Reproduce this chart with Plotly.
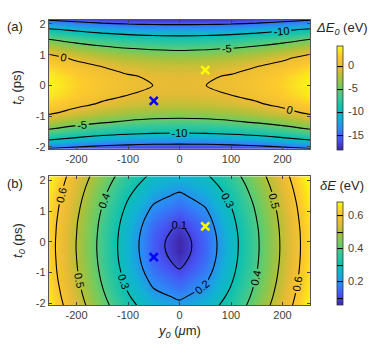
import plotly.graph_objects as go

# grid (y0 in um, t0 in ps)
y0_um = [-254, -200, -150, -100, -50, 0, 50, 100, 150, 200, 254]
t0_ps = [-2.1, -1.8, -1.5, -1.2, -0.9, -0.6, -0.3, 0, 0.3, 0.6, 0.9, 1.2, 1.5, 1.8, 2.15]

# (a) Delta E0 (eV), one row per t0 value
dE0_rows = [
    [-15.9, -16.7, -17.3, -17.7, -17.9, -18.0, -17.9, -17.7, -17.3, -16.7, -15.9],
    [-10.4, -11.5, -12.4, -12.9, -13.2, -13.3, -13.2, -12.9, -12.4, -11.5, -10.4],
    [-5.9, -7.2, -8.2, -8.8, -9.2, -9.4, -9.2, -8.8, -8.2, -7.2, -5.9],
    [-2.3, -3.8, -4.8, -5.5, -6.0, -6.1, -6.0, -5.5, -4.8, -3.8, -2.3],
    [0.4, -1.1, -2.2, -3.0, -3.4, -3.6, -3.4, -3.0, -2.2, -1.1, 0.4],
    [2.4, 0.8, -0.3, -1.1, -1.6, -1.8, -1.6, -1.1, -0.3, 0.8, 2.4],
    [3.5, 2.0, 0.8, 0.04, -0.5, -0.6, -0.5, 0.04, 0.8, 2.0, 3.5],
    [4.0, 2.4, 1.3, 0.48, -0.02, -0.2, -0.02, 0.48, 1.3, 2.4, 4.0],
    [3.7, 2.1, 1.0, 0.2, -0.3, -0.5, -0.3, 0.2, 1.0, 2.1, 3.7],
    [2.7, 1.1, 0.03, -0.8, -1.3, -1.4, -1.3, -0.8, 0.03, 1.1, 2.7],
    [1.0, -0.6, -1.7, -2.5, -2.9, -3.1, -2.9, -2.5, -1.7, -0.6, 1.0],
    [-1.6, -3.1, -4.1, -4.9, -5.3, -5.5, -5.3, -4.9, -4.1, -3.1, -1.6],
    [-4.95, -6.3, -7.3, -8.0, -8.4, -8.6, -8.4, -8.0, -7.3, -6.3, -4.95],
    [-9.2, -10.4, -11.3, -11.9, -12.2, -12.3, -12.2, -11.9, -11.3, -10.4, -9.2],
    [-15.5, -16.3, -17.0, -17.4, -17.6, -17.6, -17.6, -17.4, -17.0, -16.3, -15.5],
]

# (b) delta E (eV), one row per t0 value
dE_rows = [
    [0.668, 0.542, 0.430, 0.329, 0.251, 0.221, 0.258, 0.340, 0.443, 0.556, 0.682],
    [0.658, 0.530, 0.415, 0.309, 0.224, 0.190, 0.232, 0.321, 0.428, 0.544, 0.672],
    [0.650, 0.520, 0.402, 0.291, 0.198, 0.159, 0.207, 0.304, 0.416, 0.534, 0.664],
    [0.643, 0.511, 0.391, 0.276, 0.175, 0.129, 0.186, 0.289, 0.405, 0.526, 0.658],
    [0.638, 0.505, 0.383, 0.264, 0.155, 0.101, 0.167, 0.278, 0.397, 0.520, 0.653],
    [0.635, 0.501, 0.377, 0.255, 0.141, 0.077, 0.154, 0.270, 0.392, 0.515, 0.650],
    [0.633, 0.498, 0.374, 0.251, 0.133, 0.061, 0.146, 0.266, 0.389, 0.513, 0.648],
    [0.633, 0.498, 0.374, 0.251, 0.132, 0.060, 0.146, 0.265, 0.389, 0.513, 0.648],
    [0.635, 0.501, 0.377, 0.255, 0.140, 0.076, 0.153, 0.269, 0.391, 0.515, 0.649],
    [0.638, 0.504, 0.382, 0.263, 0.154, 0.098, 0.166, 0.277, 0.397, 0.519, 0.653],
    [0.643, 0.511, 0.390, 0.275, 0.174, 0.128, 0.184, 0.288, 0.405, 0.525, 0.658],
    [0.649, 0.519, 0.401, 0.290, 0.197, 0.157, 0.206, 0.302, 0.415, 0.533, 0.664],
    [0.657, 0.529, 0.414, 0.308, 0.222, 0.188, 0.230, 0.320, 0.428, 0.543, 0.672],
    [0.667, 0.541, 0.429, 0.328, 0.249, 0.219, 0.256, 0.339, 0.442, 0.555, 0.681],
    [0.680, 0.557, 0.449, 0.354, 0.282, 0.256, 0.289, 0.364, 0.462, 0.570, 0.694],
]

# the two marked points
cross_y0 = [-50, 50]
cross_t0 = [-0.5, 0.5]
cross_colors = ['#0000ff', '#ffff00']

x_ticks = [-200, -100, 0, 100, 200]
x_ticktext = ['-200', '-100', '0', '100', '200']
t_ticks = [-2, -1, 0, 1, 2]
t_ticktext = ['-2', '-1', '0', '1', '2']

parula = [
    [0.0, 'rgb(62,38,168)'],
    [0.1, 'rgb(72,82,244)'],
    [0.2, 'rgb(46,135,247)'],
    [0.3, 'rgb(18,177,214)'],
    [0.4, 'rgb(12,193,178)'],
    [0.5, 'rgb(55,200,151)'],
    [0.6, 'rgb(113,203,96)'],
    [0.7, 'rgb(175,193,57)'],
    [0.8, 'rgb(232,187,53)'],
    [0.9, 'rgb(253,201,46)'],
    [1.0, 'rgb(249,251,21)'],
]

FONT = 'Liberation Sans'
GREY = '#404040'


def colorbar(y, length, vals, text):
    return dict(thickness=5.5, thicknessmode='pixels', len=length, lenmode='fraction',
                x=0.902, xanchor='left', y=y, yanchor='middle', xpad=0, ypad=0,
                outlinewidth=0.8, outlinecolor='#333',
                tickvals=vals, ticktext=text,
                ticks='outside', ticklen=3, tickcolor='rgba(0,0,0,0)',
                tickfont=dict(family=FONT, size=11, color=GREY))


fig = go.Figure()

fig.add_trace(go.Contour(
    x=y0_um, y=t0_ps, z=dE0_rows, zmin=-18.2, zmax=4.2, colorscale=parula,
    contours=dict(coloring='heatmap', start=-15, end=0, size=5, showlabels=True,
                  labelfont=dict(family=FONT, size=11, color='black')),
    line=dict(color='black', width=1.1, smoothing=0.8),
    colorbar=colorbar(0.726, 0.298, [-15, -10, -5, 0], ['-15', '-10', '-5', '0']),
    xaxis='x', yaxis='y', hoverinfo='skip'))

fig.add_trace(go.Contour(
    x=y0_um, y=t0_ps, z=dE_rows, zmin=0.058, zmax=0.68, colorscale=parula,
    contours=dict(coloring='heatmap', start=0.1, end=0.6, size=0.1, showlabels=True,
                  labelfont=dict(family=FONT, size=11, color='black')),
    line=dict(color='black', width=1.1, smoothing=0.8),
    colorbar=colorbar(0.279, 0.296, [0.2, 0.4, 0.6], ['0.2', '0.4', '0.6']),
    xaxis='x2', yaxis='y2', hoverinfo='skip'))

for xa, ya in [('x', 'y'), ('x2', 'y2')]:
    fig.add_trace(go.Scatter(
        x=cross_y0, y=cross_t0, mode='markers', xaxis=xa, yaxis=ya, showlegend=False,
        marker=dict(symbol='x-thin', size=8, color=cross_colors,
                    line=dict(width=2.5, color=cross_colors))))

axis_style = dict(showgrid=False, zeroline=False, showline=True, linecolor='#555',
                  linewidth=0.8, mirror='allticks', ticks='inside', ticklen=3,
                  tickcolor='#444', tickfont=dict(family=FONT, size=11, color=GREY))

fig.update_layout(
    width=374, height=355, margin=dict(l=0, r=0, t=0, b=0),
    paper_bgcolor='white', plot_bgcolor='white', showlegend=False,
    xaxis=dict(domain=[0.1302, 0.8297], range=[-254, 254], anchor='y',
               tickvals=x_ticks, ticktext=x_ticktext, **axis_style),
    yaxis=dict(domain=[0.5794, 0.9485], range=[-2.06, 2.13], anchor='x',
               tickvals=t_ticks, ticktext=t_ticktext, **axis_style),
    xaxis2=dict(domain=[0.1302, 0.8297], range=[-254, 254], anchor='y2',
                tickvals=x_ticks, ticktext=x_ticktext, **axis_style),
    yaxis2=dict(domain=[0.1315, 0.5006], range=[-2.06, 2.13], anchor='x2',
                tickvals=t_ticks, ticktext=t_ticktext, **axis_style),
)

label_font = dict(family=FONT, size=13, color='#262626')
notes = [
    dict(x=0.040, y=0.930, text='(a)'),
    dict(x=0.040, y=0.479, text='(b)'),
    dict(x=0.048, y=0.757, text='<i>t</i><sub><i>0</i></sub> (ps)', textangle=-90),
    dict(x=0.048, y=0.318, text='<i>t</i><sub><i>0</i></sub> (ps)', textangle=-90),
    dict(x=0.479, y=0.055, text='<i>y</i><sub><i>0</i></sub> (<i>μ</i>m)'),
    dict(x=0.915, y=0.925, text='<i>ΔE</i><sub><i>0</i></sub> (eV)'),
    dict(x=0.915, y=0.474, text='<i>δE</i> (eV)'),
]
for n in notes:
    fig.add_annotation(xref='paper', yref='paper', showarrow=False,
                       xanchor='center', yanchor='middle', font=label_font, **n)

# drop the browser's default page margin so the figure sits at (0, 0)
fig.write_html("out.html", config={'displayModeBar': False},
               post_script="document.body.style.margin='0px';")
